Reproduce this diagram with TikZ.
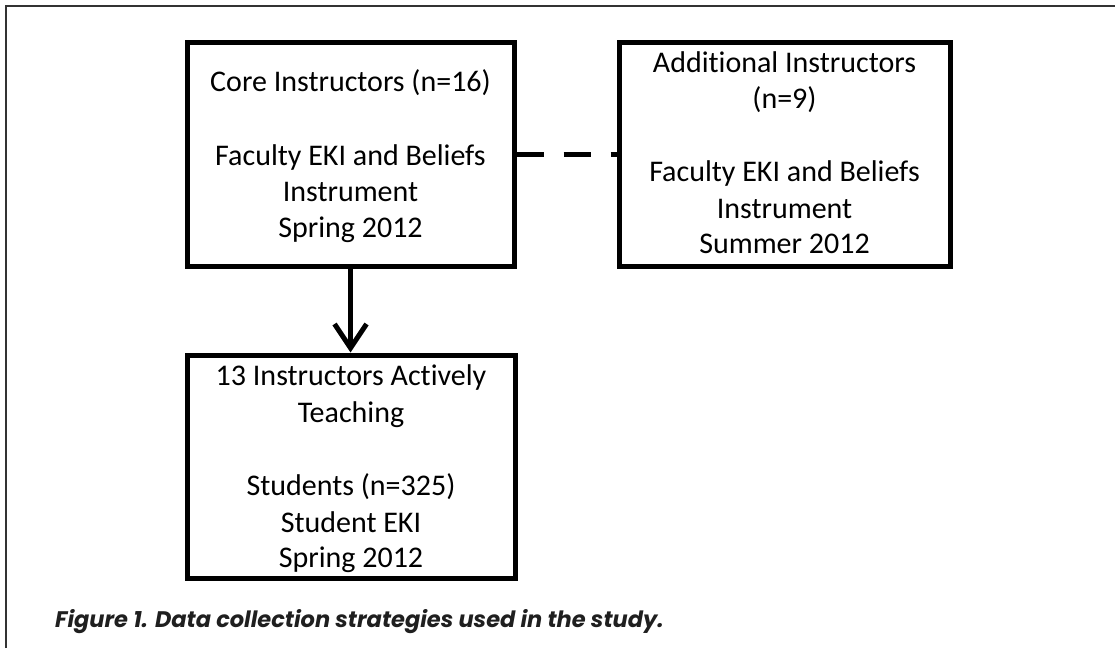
\documentclass[tikz,border=0pt]{standalone}
\usepackage{fontspec}
\setmainfont{Carlito}[Ligatures=NoCommon]
\newfontfamily\capfont{Poppins}
\usetikzlibrary{arrows.meta}
\begin{document}
\begin{tikzpicture}[x=1pt,y=-1pt,
  frame/.style={draw=black!80, line width=1.3pt},
  box/.style={draw=black, line width=5pt, line join=miter, rectangle, inner sep=0pt},
  txt/.style={anchor=base, inner sep=0pt, font=\fontsize{30}{36}\selectfont, text=black},
  link/.style={line width=5pt, dash pattern=on 27pt off 20pt},
  flow/.style={line width=5pt, -{Straight Barb[length=24pt,width=32pt]}},
  figcaption/.style={anchor=base west, inner sep=0pt, font=\capfont\bfseries\itshape\fontsize{22.5}{26}\selectfont, text=black!88}]
\useasboundingbox (0,0) rectangle (1115,648);
\fill[white] (0,0) rectangle (1115,648);
% page frame (top and left rules)
\draw[frame] (6,648) -- (6,6) -- (1115,6);

% boxes
\node[box, minimum width=327pt, minimum height=224pt] (core) at (350.5,154) {};
\node[box, minimum width=331pt, minimum height=224pt] (add) at (784.5,154) {};
\node[box, minimum width=328pt, minimum height=223pt] (stud) at (351,466.5) {};

% box texts
\node[txt] (core1) at (350.5,91) {Core Instructors (n=16)};
\node[txt] (core2) at (350.5,165) {Faculty EKI and Beliefs};
\node[txt] (core3) at (350.5,201) {Instrument};
\node[txt] (core4) at (350.5,237) {Spring 2012};

\node[txt] (add1) at (784.5,72) {Additional Instructors};
\node[txt] (add2) at (784.5,108.5) {(n=9)};
\node[txt] (add3) at (784.5,181.5) {Faculty EKI and Beliefs};
\node[txt] (add4) at (784.5,218) {Instrument};
\node[txt] (add5) at (784.5,253.5) {Summer 2012};

\node[txt] (stud1) at (351,385) {13 Instructors Actively};
\node[txt] (stud2) at (351,422) {Teaching};
\node[txt] (stud3) at (351,495) {Students (n=325)};
\node[txt] (stud4) at (351,532) {Student EKI};
\node[txt] (stud5) at (351,567) {Spring 2012};

% connectors
\draw[link] (core.east) -- (add.west);
\draw[flow] (core.south) -- (core.south |- stud.north);

% caption
\node[figcaption] (caption) at (55,627) {Figure 1. Data collection strategies used in the study.};
\end{tikzpicture}
\end{document}
